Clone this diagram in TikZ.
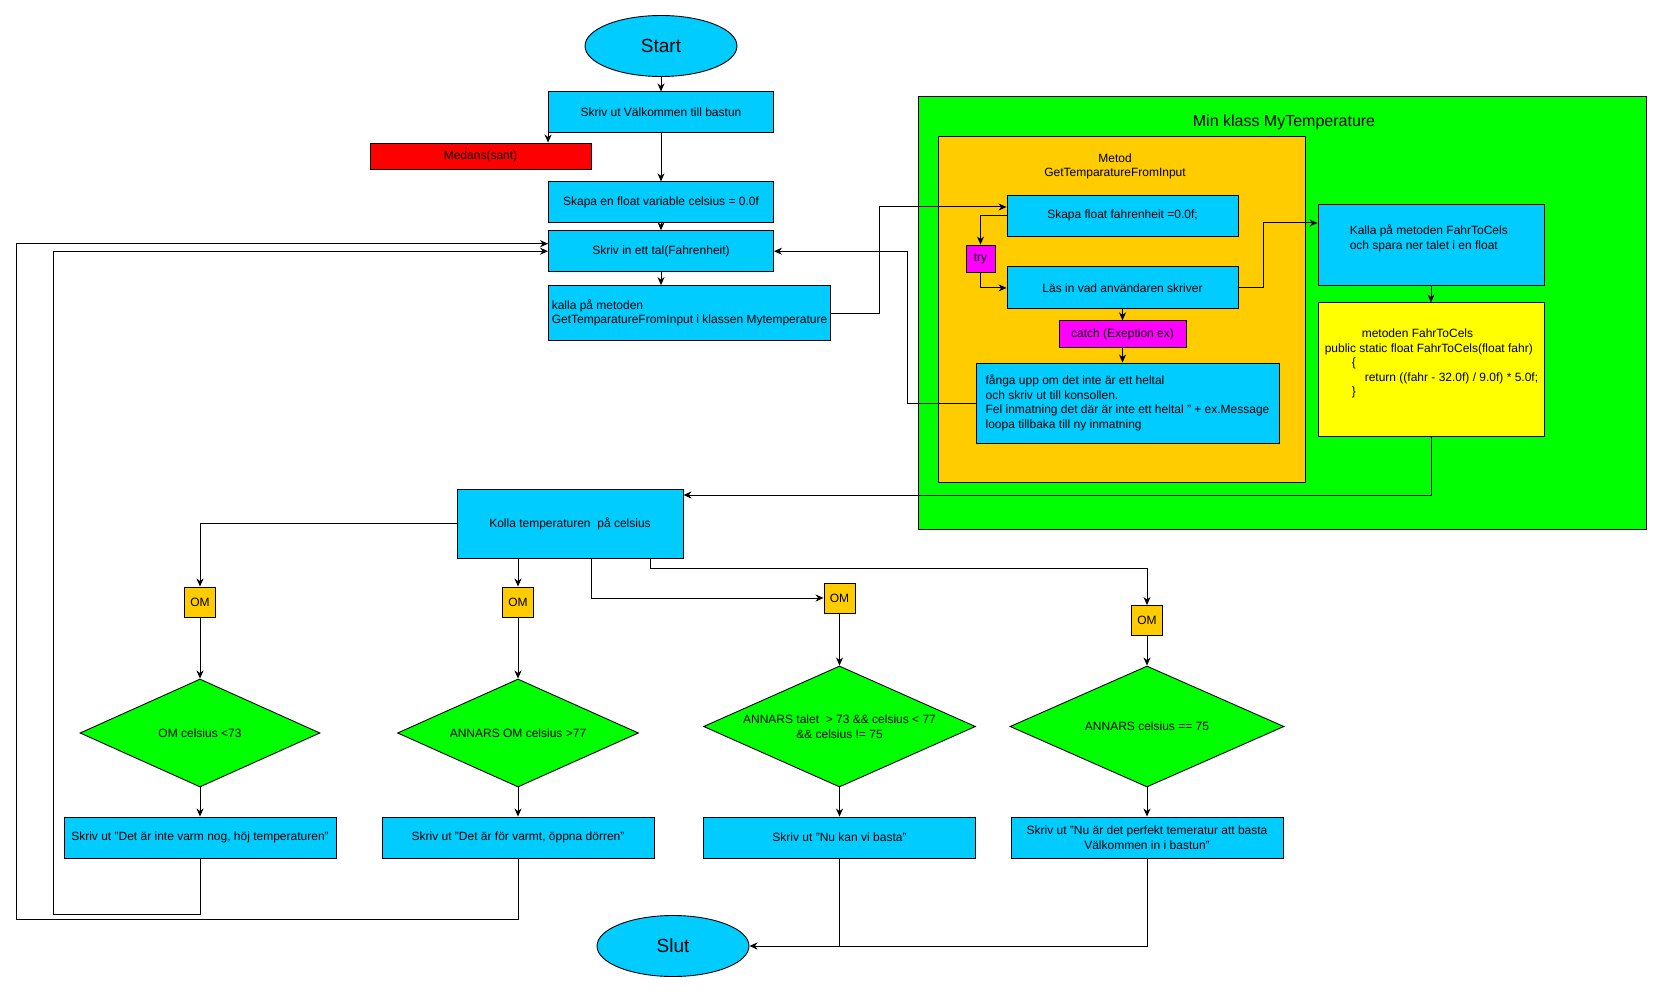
\documentclass[tikz,border=0pt]{standalone}
\usepackage{fontspec}
\setmainfont{Liberation Sans}
\usetikzlibrary{arrows.meta, positioning, shapes.geometric}

\definecolor{flowcyan}{RGB}{0,204,255}
\definecolor{flowgreen}{RGB}{0,255,0}
\definecolor{flowamber}{RGB}{255,204,0}
\definecolor{flowyellow}{RGB}{255,255,0}
\definecolor{flowpink}{RGB}{255,0,255}
\definecolor{flowred}{RGB}{255,0,0}

\begin{document}
\begin{tikzpicture}[x=1pt, y=-1pt]
\tikzset{
  block/.style={rectangle, draw, line width=0.9pt, fill=flowcyan, minimum width=225pt, minimum height=41pt, inner sep=2pt, align=center, font=\fontsize{12}{14.5}\selectfont},
  terminal/.style={ellipse, draw, line width=0.9pt, fill=flowcyan, minimum width=152pt, minimum height=61pt, inner sep=0pt, font=\fontsize{19}{22}\selectfont},
  decision/.style={diamond, draw, line width=0.9pt, fill=flowgreen, shape aspect=2.25, inner sep=0pt, align=center, font=\fontsize{12}{14.5}\selectfont},
  tag/.style={rectangle, draw, line width=0.9pt, inner sep=0pt, font=\fontsize{12}{14.5}\selectfont},
  frame/.style={rectangle, draw, line width=0.9pt, inner sep=0pt},
  caption/.style={inner sep=0pt, align=left, font=\fontsize{12}{14.5}\selectfont},
  line/.style={draw, line width=1pt, -{Stealth[length=8pt, width=7pt, inset=2.5pt]}},
  link/.style={draw, line width=1pt},
}
\useasboundingbox (0,0) rectangle (1662,992);

% the class and its method
\node[frame, fill=flowgreen, minimum width=728pt, minimum height=433pt] (ClassBox) at (1282,312.5) {};
\node[inner sep=0pt, font=\fontsize{16}{19}\selectfont] (ClassTitle) at (1284,122) {Min klass MyTemperature};
\node[frame, fill=flowamber, minimum width=367pt, minimum height=346pt] (MethodBox) at (1121.5,309) {};
\node[caption, align=center] (MethodTitle) at (1115,166.5) {Metod\\GetTemparatureFromInput};

\node[terminal] (Start) at (661,46) {Start};
\node[block, below=14.5pt of Start] (Welcome) {Skriv ut Välkommen till bastun};
\node[block, fill=flowred, minimum width=221pt, minimum height=26pt] (Medans) at (480.5,156) {Medans(sant)};
\node[block, below=48pt of Welcome] (Celsius) {Skapa en float variable celsius = 0.0f};
\node[block, below=7pt of Celsius] (ReadTemp) {Skriv in ett tal(Fahrenheit)};
\node[block, align=left, minimum width=282pt, minimum height=55pt,
  below right=13pt and 0pt of ReadTemp.south west] (CallMethod)
  {kalla på metoden\\GetTemparatureFromInput i klassen Mytemperature};

\node[block, minimum width=231pt] (CreateFahr) at (1122.5,215.5) {Skapa float fahrenheit =0.0f;};
\node[tag, fill=flowpink, minimum width=29pt, minimum height=27pt] (Try) at (980.5,258.5) {try};
\node[block, minimum width=231pt, minimum height=42pt, below=30pt of CreateFahr] (ReadInput) {Läs in vad användaren skriver};
\node[tag, fill=flowpink, minimum width=127pt, minimum height=27pt, below=11pt of ReadInput] (Catch) {catch (Exeption ex)};
\node[block, align=left, minimum width=303pt, minimum height=80pt] (CatchMsg) at (1127.5,403)
  {fånga upp om det inte är ett heltal\\och skriv ut till konsollen.\\Fel inmatning det där är inte ett heltal " + ex.Message\\loopa tillbaka till ny inmatning};

\node[block, minimum width=226pt, minimum height=81pt] (FahrCall) at (1431,244.5) {};
\node[caption, anchor=west] (FahrCallText) at ([xshift=32pt, yshift=6pt]FahrCall.west)
  {Kalla på metoden FahrToCels\\och spara ner talet i en float};
\node[block, fill=flowyellow, minimum width=226pt, minimum height=134pt, below=17pt of FahrCall] (FahrMethod) {};
\node[caption, anchor=west] (FahrMethodText) at ([xshift=7pt, yshift=6.5pt]FahrMethod.west)
  {\hspace*{37pt}metoden FahrToCels\\
   public static float FahrToCels(float fahr)\\
   \hspace*{27pt}\{\\
   \hspace*{40pt}return ((fahr - 32.0f) / 9.0f) * 5.0f;\\
   \hspace*{27pt}\}};

% checking the temperature
\node[block, minimum width=226pt, minimum height=69pt] (CheckTemp) at (570,523.5) {Kolla temperaturen~ på celsius};

\node[tag, fill=flowamber, minimum width=31pt, minimum height=30pt] (IfCold) at (200,602) {OM};
\node[tag, fill=flowamber, minimum width=31pt, minimum height=30pt] (IfHot) at (518,602) {OM};
\node[tag, fill=flowamber, minimum width=31pt, minimum height=30pt] (IfOk) at (839.5,598) {OM};
\node[tag, fill=flowamber, minimum width=31pt, minimum height=30pt] (IfPerfect) at (1147,620.5) {OM};

\node[decision, minimum width=240pt, minimum height=108pt] (CaseCold) at (200,733) {OM celsius <73};
\node[decision, minimum width=241pt, minimum height=108pt] (CaseHot) at (518,733) {ANNARS OM celsius >77};
\node[decision, minimum width=272pt, minimum height=121pt] (CaseOk) at (839.5,726.5)
  {ANNARS talet~ > 73 \&\& celsius < 77\\\&\& celsius != 75};
\node[decision, minimum width=274pt, minimum height=121pt] (CasePerfect) at (1147,726.5) {ANNARS celsius == 75};

\node[block, minimum width=272pt] (OutCold) at (200,837.5) {Skriv ut "Det är inte varm nog, höj temperaturen"};
\node[block, minimum width=272pt] (OutHot) at (518,837.5) {Skriv ut "Det är för varmt, öppna dörren"};
\node[block, minimum width=272pt] (OutOk) at (839.5,837.5) {Skriv ut "Nu kan vi basta"};
\node[block, minimum width=272pt] (OutPerfect) at (1147,837.5) {Skriv ut "Nu är det perfekt temeratur att basta\\Välkommen in i bastun"};

\node[terminal] (Stop) at (673,946) {Slut};

\coordinate (LoopInner) at (53,914);
\coordinate (LoopOuter) at (16,919);

\draw[line] (Start) -- (Welcome);
\draw[line] (Welcome) -- (Celsius);
\draw[line] (Welcome.south west) -- (Welcome.south west |- Medans.north);
\draw[line] (Celsius) -- (ReadTemp);
\draw[line] (ReadTemp.south) -- (ReadTemp.south |- CallMethod.north);
\draw[line] (CallMethod.east) -- ++(49,0) |- ([yshift=8.5pt]CreateFahr.west);
\draw[line] (CreateFahr.west) -| (Try.north);
\draw[line] (Try.south) |- (ReadInput.west);
\draw[line] (ReadInput) -- (Catch);
\draw[line] (Catch.south) -- (Catch.south |- CatchMsg.north);
\draw[line] (CatchMsg.west) -- ++(-68,0) |- (ReadTemp.east);
\draw[line] (ReadInput.east) -- ++(25,0) |- ([yshift=21.5pt]FahrCall.west);
\draw[line] (FahrCall) -- (FahrMethod);
\draw[line] (FahrMethod.south) |- ([yshift=28.5pt]CheckTemp.east);

\draw[line] (CheckTemp.west) -| (IfCold.north);
\draw[line] (IfHot.north |- CheckTemp.south) -- (IfHot.north);
\draw[line] ([xshift=21pt]CheckTemp.south) |- (IfOk.west);
\draw[line] ([xshift=80pt]CheckTemp.south) -- ++(0,10) -| (IfPerfect.north);
\foreach \name in {Cold, Hot, Ok, Perfect} {
  \draw[line] (If\name) -- (Case\name);
  \draw[line] (Case\name) -- (Out\name);
}

\draw[line] (OutCold.south) |- (LoopInner) |- (ReadTemp.west);
\draw[line] (OutHot.south) |- (LoopOuter) |- ([yshift=7.5pt]ReadTemp.west);
\draw[link] (OutOk.south) -- (OutOk.south |- Stop.east);
\draw[line] (OutPerfect.south) |- (Stop.east);
\end{tikzpicture}
\end{document}
